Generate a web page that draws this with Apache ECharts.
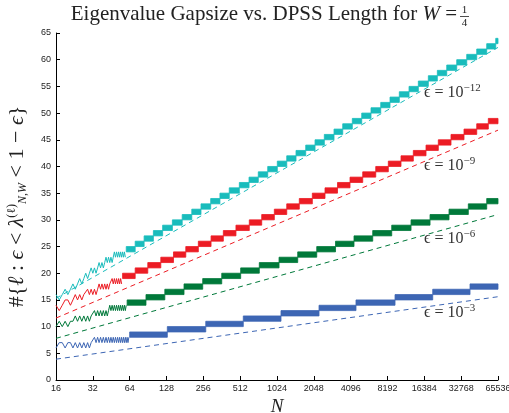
<!DOCTYPE html>
<html><head><meta charset="utf-8">
<script src="https://cdn.jsdelivr.net/npm/echarts@6/dist/echarts.min.js"></script>
<style>html,body{margin:0;padding:0;background:#fff}#c{width:509px;height:413px}</style>
</head><body><div id="c"></div>
<script>
// ---- data ----
const xTickValues = [16,32,64,128,256,512,1024,2048,4096,8192,16384,32768,65536];
const earlyStartN = 16; // early arrays hold the count for N = 16, 17, 18, ...
const cyanEarly  = [16,15,16,17,16,17,18,17,18,19,18,19,20,19,20,21,20,21,20,21,22,21,22,21,22,23,22,23,22,23,22,23,24,23,24,23,24,23,24,23,24,23,24,23];
const redEarly   = [14,13,14,15,15,14,15,16,15,16,15,16,16,17,16,17,16,17,16,17,18,17,18,17,18,17,18,17,18,18,19,18,19,18,19,18,19,18,19,18];
const greenEarly = [10,11,10,11,10,11,11,12,11,12,11,12,11,12,11,12,12,13,12,13,12,13,12,13,12,13,12,13,14,13,14,13,14,13,14,13,14,13,14,13,14,13,14,13,14];
const blueEarly  = [6,7,7,6,7,7,6,7,6,7,6,7,6,7,6,7,7,8,7,8,7,8,7,8,7,8,7,8,7,8,7,8,7,8,7,8,7,8,7,8,7,8,7,8,7,8,7,8];
// dense alternation bands: [N where band starts, lower count] (count alternates lower / lower+1)
const cyanBands = [[60,24],[71,25],[84,26],[100,27],[119,28],[143,29],[172,30],[206,31],[245,32],[294,33],[350,34],[417,35],[504,36],[605,37],[720,38],[860,39],[1030,40],[1230,41],[1465,42],[1758,43],[2095,44],[2495,45],[2995,46],[3527,47],[4225,48],[5043,49],[6008,50],[7211,51],[8590,52],[10234,53],[12285,54],[14634,55],[17664,56],[20924,57],[24976,58],[30144,59],[36380,60],[43915,61],[53000,62],[62800,63]];
const redBands = [[56,19],[71,20],[90,21],[115,22],[146,23],[184,24],[233,25],[296,26],[373,27],[473,28],[608,29],[768,30],[974,31],[1230,32],[1558,33],[1991,34],[2527,35],[3198,36],[4047,37],[5139,38],[6565,39],[8320,40],[10563,41],[13319,42],[16914,43],[21316,44],[27063,45],[34572,46],[43915,47],[54628,48]];
const greenBands = [[61,14],[87,15],[124,16],[178,17],[253,18],[362,19],[517,20],[734,21],[1064,22],[1512,23],[2163,24],[3080,25],[4362,26],[6203,27],[8869,28],[12757,29],[18240,30],[26076,31],[37490,32],[53000,33]];
const blueBands = [[64,8],[130,9],[268,10],[543,11],[1104,12],[2258,13],[4528,14],[9438,15],[19190,16],[38710,17]];
const lastN = 65536;
// dashed bounds
const cyanDash  = [[16,15.3],[65536,62.3]];
const redDash   = [[16,11.6],[65536,46.8]];
const greenDash = [[16,7.8],[65536,31.0]];
const blueDash  = [[16,3.9],[65536,15.6]];
const epsLabels = ['−12','−9','−6','−3'];

const colors = {cyan:'#19bcbc', red:'#ec1c24', green:'#00793a', blue:'#3d66b4'};

function earlyData(arr){ return arr.map((v,i)=>[earlyStartN+i, v]); }
function bandData(b){ return b.map((s,i)=>[s[0], i+1<b.length ? b[i+1][0] : lastN, s[1], s[1]+1]); }
function bandRender(color){
  return function(params, api){
    const p0 = api.coord([api.value(0), api.value(3)]);
    const p1 = api.coord([api.value(1), api.value(2)]);
    return {type:'rect', shape:{x:p0[0], y:p0[1], width:p1[0]-p0[0], height:p1[1]-p0[1]},
      style:{fill:color, stroke:color, lineWidth:0.8}};
  };
}
const series = [];
[['cyan',cyanEarly,cyanBands,cyanDash],['red',redEarly,redBands,redDash],['green',greenEarly,greenBands,greenDash],['blue',blueEarly,blueBands,blueDash]].forEach(([k,e,b,d])=>{
  const c = colors[k];
  series.push({type:'line', data:d, symbol:'none', silent:true, lineStyle:{color:c, width:1, type:[5,4]}, z:1});
  series.push({type:'line', data:earlyData(e), symbol:'none', silent:true, lineStyle:{color:c, width:1}, z:2});
  series.push({type:'custom', data:bandData(b), renderItem:bandRender(c), encode:{x:[0,1], y:[2,3]}, silent:true, z:2});
});

const chart = echarts.init(document.getElementById('c'), null, {renderer:'canvas'});
const tickFont = {fontFamily:'"Liberation Sans", Arial, sans-serif', fontSize:9, color:'#222'};
const serif = '"Liberation Serif", "DejaVu Serif", serif';
const epsY = [102, 175, 248, 322];
const graphic = [
  {type:'text', x:457, y:25, style:{text:'Eigenvalue Gapsize vs. DPSS Length for {i|W} =', font:'21px '+serif, fill:'#222', textAlign:'right', textVerticalAlign:'bottom',
    rich:{i:{fontStyle:'italic', fontFamily:serif, fontSize:21}}}},
  {type:'text', x:464.5, y:16, style:{text:'1', font:'11px '+serif, fill:'#222', textAlign:'center', textVerticalAlign:'bottom'}},
  {type:'line', shape:{x1:460, y1:16.5, x2:469, y2:16.5}, style:{stroke:'#222', lineWidth:0.8}},
  {type:'text', x:464.5, y:18, style:{text:'4', font:'11px '+serif, fill:'#222', textAlign:'center', textVerticalAlign:'top'}}
];
epsLabels.forEach((s,i)=>{
  graphic.push({type:'text', x:424, y:epsY[i], z:10, style:{text:'ϵ = 10{s|'+s+'}', font:'16px '+serif, fill:'#333', textAlign:'left', textVerticalAlign:'bottom',
    rich:{s:{fontSize:11, fontFamily:serif, verticalAlign:'top', fill:'#333', padding:[0,0,8,0]}}}});
});

chart.setOption({
  animation:false,
  backgroundColor:'#fff',
  grid:{left:56, right:11, top:33, bottom:33, containLabel:false, outerBoundsMode:'none'},
  xAxis:{type:'log', logBase:2, min:16, max:65536,
    name:'N', nameLocation:'middle', nameGap:15,
    nameTextStyle:{fontFamily:serif, fontStyle:'italic', fontSize:19, color:'#222'},
    axisLine:{lineStyle:{color:'#000', width:1}},
    axisTick:{inside:true, length:4, lineStyle:{color:'#000'}, customValues:xTickValues},
    axisLabel:Object.assign({margin:4, formatter:v=>String(Math.round(v)), customValues:xTickValues,
      alignMinLabel:'center', alignMaxLabel:'center'}, tickFont),
    splitLine:{show:false}, minorTick:{show:false}},
  yAxis:{type:'value', min:0, max:65, interval:5,
    name:'#{{m|ℓ} : {m|ϵ} < {m|λ}{sup|(ℓ)}{sub|N,W} < 1 − {m|ϵ}}', nameLocation:'middle', nameGap:27, nameRotate:90,
    nameTextStyle:{fontFamily:serif, fontSize:22, color:'#222',
      rich:{m:{fontStyle:'italic', fontFamily:serif, fontSize:22, color:'#222'},
            sup:{fontSize:12, fontFamily:serif, color:'#222', verticalAlign:'top', padding:[0,0,11,0]},
            sub:{fontSize:12, fontStyle:'italic', fontFamily:serif, color:'#222', verticalAlign:'bottom', padding:[9,0,0,0]}}},
    axisLine:{show:true, lineStyle:{color:'#000', width:1}},
    axisTick:{show:true, inside:true, length:4, lineStyle:{color:'#000'}},
    axisLabel:Object.assign({margin:5}, tickFont),
    splitLine:{show:false}},
  graphic:graphic,
  series:series
});
</script></body></html>
